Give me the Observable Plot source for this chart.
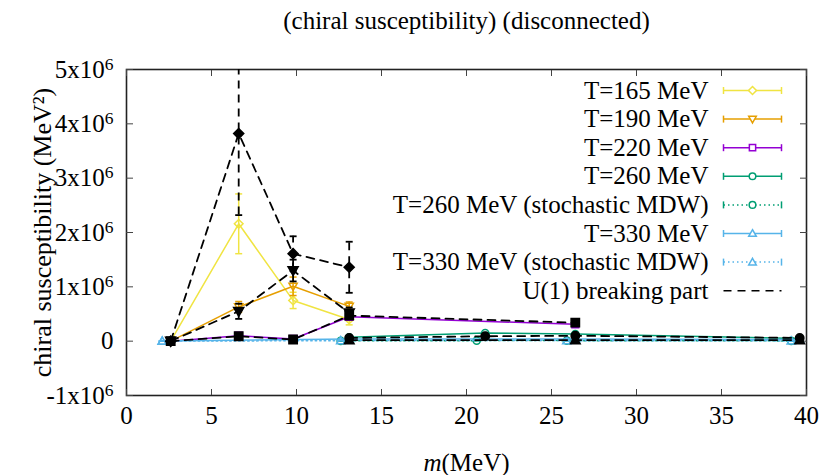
<!DOCTYPE html>
<html><head><meta charset="utf-8">
<script src="https://cdn.jsdelivr.net/npm/d3@7"></script>
<script src="https://cdn.jsdelivr.net/npm/@observablehq/plot@0.6"></script>
<style>body{margin:0;background:#fff;}</style>
</head><body><div id="chart"></div>
<script>
// ---------- data ----------
const xTicks = [0, 5, 10, 15, 20, 25, 30, 35, 40];
const yTicks = [-1e6, 0, 1e6, 2e6, 3e6, 4e6, 5e6];
const yTickLabels = ["-1x10^6", "0", "1x10^6", "2x10^6", "3x10^6", "4x10^6", "5x10^6"];
const titleText = "(chiral susceptibility) (disconnected)";
const xLabel = "m(MeV)";
const yLabel = "chiral susceptibility (MeV²)";
const legendLabels = ["T=165 MeV", "T=190 MeV", "T=220 MeV", "T=260 MeV",
  "T=260 MeV (stochastic MDW)", "T=330 MeV", "T=330 MeV (stochastic MDW)", "U(1) breaking part"];

const m165 = [2.6, 6.6, 9.8, 13.1];
const v165 = [0, 2.16e6, 0.75e6, 0.40e6];
const e165 = [0.01e6, 0.55e6, 0.15e6, 0.10e6];
const m190 = [2.6, 6.6, 9.8, 13.1];
const v190 = [0, 0.63e6, 1.01e6, 0.64e6];
const e190 = [0.01e6, 0.10e6, 0.17e6, 0.08e6];
const m220 = [2.6, 6.6, 9.8, 13.1, 26.4];
const v220 = [0, 0.10e6, 0.04e6, 0.45e6, 0.31e6];
const e220 = [0.005e6, 0.02e6, 0.01e6, 0.02e6, 0.02e6];
const m260 = [13.1, 21.1, 26.4, 39.6];
const v260 = [0.07e6, 0.15e6, 0.13e6, 0.05e6];
const e260 = [0.01e6, 0.01e6, 0.01e6, 0.005e6];
const m260s = [12.6, 20.6, 25.9, 39.1];
const v260s = [0.005e6, 0.01e6, 0.01e6, 0.005e6];
const e260s = [0.003e6, 0.003e6, 0.003e6, 0.003e6];
const m330 = [2.1, 13.1, 26.4, 39.6];
const v330 = [0.002e6, 0.04e6, 0.04e6, 0.03e6];
const e330 = [0.002e6, 0.002e6, 0.002e6, 0.002e6];
const m330s = [2.1, 12.6, 25.9, 39.1];
const v330s = [0, 0.01e6, 0.01e6, 0.005e6];
const e330s = [0.002e6, 0.002e6, 0.002e6, 0.002e6];

const mU165 = [2.6, 6.6, 9.8, 13.1];
const vU165 = [0, 3.82e6, 1.61e6, 1.36e6];
const eU165 = [0.01e6, 1.5e6, 0.32e6, 0.47e6];
const mU190 = [2.6, 6.6, 9.8, 13.1];
const vU190 = [0, 0.55e6, 1.30e6, 0.52e6];
const eU190 = [0.01e6, 0.14e6, 0.20e6, 0.10e6];
const mU220 = [2.6, 6.6, 9.8, 13.1, 26.4];
const vU220 = [0, 0.09e6, 0.03e6, 0.47e6, 0.34e6];
const eU220 = [0.005e6, 0.02e6, 0.01e6, 0.03e6, 0.02e6];
const mU260 = [13.1, 21.1, 26.4, 39.6];
const vU260 = [0.06e6, 0.09e6, 0.10e6, 0.06e6];
const eU260 = [0.01e6, 0.01e6, 0.01e6, 0.01e6];
const mU330 = [13.1, 26.4, 39.6];
const vU330 = [0.02e6, 0.02e6, 0.02e6];
const eU330 = [0.005e6, 0.005e6, 0.005e6];

// ---------- symbols ----------
const rad = s => Math.sqrt(s / Math.PI);
const hline = {draw(c, s) { const r = rad(s); c.moveTo(-r, 0); c.lineTo(r, 0); }};
const vline = {draw(c, s) { const r = rad(s); c.moveTo(0, -r); c.lineTo(0, r); }};
const triDown = {draw(c, s) { const r = rad(s) * 1.15; c.moveTo(0, r); c.lineTo(r, -r * 0.75); c.lineTo(-r, -r * 0.75); c.closePath(); }};
const triUp = {draw(c, s) { const r = rad(s) * 1.15; c.moveTo(0, -r); c.lineTo(r, r * 0.75); c.lineTo(-r, r * 0.75); c.closePath(); }};
const diam = {draw(c, s) { const r = rad(s) * 1.2; c.moveTo(0, -r); c.lineTo(r, 0); c.lineTo(0, r); c.lineTo(-r, 0); c.closePath(); }};
const sq = {draw(c, s) { const r = rad(s) * 0.95; c.rect(-r, -r, 2 * r, 2 * r); }};
const circ = {draw(c, s) { const r = rad(s); c.moveTo(r, 0); c.arc(0, 0, r, 0, 2 * Math.PI); }};

const FONT = "Liberation Serif";
const DASH = "8,6", DOT = "1.5,3";
const series = [
  {m: m165, v: v165, e: e165, color: "#f0e442", symbol: diam, r: 3.6, dash: null, filled: false},
  {m: m190, v: v190, e: e190, color: "#e69f00", symbol: triDown, r: 3.6, dash: null, filled: false},
  {m: m220, v: v220, e: e220, color: "#9400d3", symbol: sq, r: 3.6, dash: null, filled: false},
  {m: m260, v: v260, e: e260, color: "#009e73", symbol: circ, r: 3.6, dash: null, filled: false},
  {m: m260s, v: v260s, e: e260s, color: "#009e73", symbol: circ, r: 3.6, dash: DOT, filled: false},
  {m: m330, v: v330, e: e330, color: "#56b4e9", symbol: triUp, r: 3.6, dash: null, filled: false},
  {m: m330s, v: v330s, e: e330s, color: "#56b4e9", symbol: triUp, r: 3.6, dash: DOT, filled: false},
  {m: mU165, v: vU165, e: eU165, color: "black", symbol: diam, r: 4.2, dash: DASH, filled: true},
  {m: mU190, v: vU190, e: eU190, color: "black", symbol: triDown, r: 4.4, dash: DASH, filled: true},
  {m: mU220, v: vU220, e: eU220, color: "black", symbol: sq, r: 4.4, dash: DASH, filled: true},
  {m: mU260, v: vU260, e: eU260, color: "black", symbol: circ, r: 4.2, dash: DASH, filled: true},
  {m: mU330, v: vU330, e: eU330, color: "black", symbol: triUp, r: 4.2, dash: DASH, filled: true}
];

// ---------- marks ----------
const marks = [];
marks.push(Plot.frame({stroke: "#222", strokeWidth: 1.6}));
marks.push(Plot.axisX(xTicks, {anchor: "bottom", tickSize: -6, tickPadding: 17, tickFormat: d => String(d), label: null, stroke: "#444", fontFamily: FONT}));
marks.push(Plot.axisX(xTicks, {anchor: "top", tickSize: -6, tickFormat: () => "", label: null, stroke: "#444"}));
marks.push(Plot.axisY(yTicks, {anchor: "left", tickSize: -7, tickPadding: 20, tickFormat: d => yTickLabels[yTicks.indexOf(d)], label: null, stroke: "#444", fontFamily: FONT}));
marks.push(Plot.axisY(yTicks, {anchor: "right", tickSize: -7, tickFormat: () => "", label: null, stroke: "#444"}));

for (const s of series) {
  const rows = s.m.map((x, i) => ({x, y: s.v[i], lo: s.v[i] - s.e[i], hi: s.v[i] + s.e[i]}));
  const sw = s.color === "black" ? 1.8 : 1.5;
  marks.push(Plot.line(rows, {x: "x", y: "y", stroke: s.color, strokeWidth: sw, strokeDasharray: s.dash, clip: true}));
  marks.push(Plot.ruleX(rows, {x: "x", y1: "lo", y2: "hi", stroke: s.color, strokeWidth: sw, strokeDasharray: s.dash, clip: true}));
  marks.push(Plot.dot(rows, {x: "x", y: "lo", symbol: hline, r: 3.5, stroke: s.color, strokeWidth: sw, fill: "none", clip: true}));
  marks.push(Plot.dot(rows, {x: "x", y: "hi", symbol: hline, r: 3.5, stroke: s.color, strokeWidth: sw, fill: "none", clip: true}));
  marks.push(Plot.dot(rows, {x: "x", y: "y", symbol: s.symbol, r: s.r, stroke: s.color, strokeWidth: 1.5,
    fill: s.filled ? s.color : "none"}));
}

// legend (inside, top-right)
const legTop = 21, legRow = 28.6, legTextDx = -98, legMid = -54, legHalf = 29;
legendLabels.forEach((lab, i) => {
  const dy = legTop + i * legRow;
  const s = i < 7 ? series[i] : series[7];
  marks.push(Plot.text([lab], {frameAnchor: "top-right", dx: legTextDx, dy, text: d => d, textAnchor: "end", lineAnchor: "middle", fill: "black", fontFamily: FONT}));
  const dash = i < 7 ? s.dash : DASH;
  marks.push(Plot.dot([0], {frameAnchor: "top-right", dx: legMid, dy, symbol: hline, r: legHalf, stroke: s.color, strokeWidth: 1.5, strokeDasharray: dash, fill: "none"}));
  if (i < 7) {
    marks.push(Plot.dot([0], {frameAnchor: "top-right", dx: legMid - legHalf, dy, symbol: vline, r: 3.5, stroke: s.color, strokeWidth: 1.5, fill: "none"}));
    marks.push(Plot.dot([0], {frameAnchor: "top-right", dx: legMid + legHalf, dy, symbol: vline, r: 3.5, stroke: s.color, strokeWidth: 1.5, fill: "none"}));
    marks.push(Plot.dot([0], {frameAnchor: "top-right", dx: legMid, dy, symbol: s.symbol, r: 3.3, stroke: s.color, strokeWidth: 1.5, fill: "white"}));
  }
});

// titles
marks.push(Plot.text([titleText], {frameAnchor: "top", dy: -49, text: d => d, textAnchor: "middle", lineAnchor: "middle", fill: "black", fontFamily: FONT}));
marks.push(Plot.text([xLabel], {frameAnchor: "bottom", dy: 67, text: d => d, textAnchor: "middle", lineAnchor: "middle", fill: "black", fontFamily: FONT}));
marks.push(Plot.text([yLabel], {frameAnchor: "left", dx: -84, rotate: -90, text: d => d, textAnchor: "middle", lineAnchor: "middle", fill: "black", fontFamily: FONT, fontSize: 26}));

const chart = Plot.plot({
  width: 822, height: 475,
  marginLeft: 126, marginRight: 16, marginTop: 69, marginBottom: 80,
  x: {domain: [0, 40], label: null},
  y: {domain: [-1e6, 5e6], label: null},
  style: {fontFamily: FONT, fontSize: "25px", background: "white", color: "black"},
  marks
});
document.getElementById("chart").appendChild(chart);

// superscripts / italics in text
d3.select(chart).selectAll("text").each(function () {
  const t = this.textContent;
  if (t.includes("^")) {
    const [base, sup] = t.split("^");
    this.textContent = "";
    d3.select(this).append("tspan").text(base);
    d3.select(this).append("tspan").attr("dy", "-0.45em").attr("font-size", "0.7em").text(sup);
  } else if (t === xLabel) {
    this.textContent = "";
    d3.select(this).append("tspan").attr("font-style", "italic").text("m");
    d3.select(this).append("tspan").text("(MeV)");
  }
});
</script></body></html>
